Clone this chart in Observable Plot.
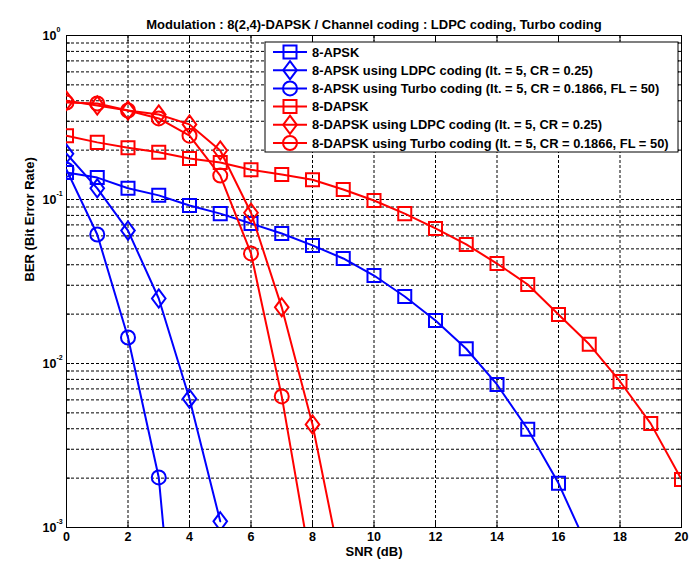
<!DOCTYPE html>
<html>
<head>
<meta charset="utf-8">
<script src="https://cdn.jsdelivr.net/npm/d3@7"></script>
<script src="https://cdn.jsdelivr.net/npm/@observablehq/plot@0.6"></script>
<style>
  html, body { margin: 0; padding: 0; background: #fff; }
</style>
</head>
<body>
<div id="chart"></div>
<script>
// ---- data ----
const titleText = "Modulation : 8(2,4)-DAPSK / Channel coding : LDPC coding, Turbo coding";
const xLabel = "SNR (dB)";
const yLabel = "BER (Bit Error Rate)";
const xTicks = [0, 2, 4, 6, 8, 10, 12, 14, 16, 18, 20];
const yDecades = [1e-3, 1e-2, 1e-1, 1];
const yExponents = ["-3", "-2", "-1", "0"];

const seriesNames = [
  "8-APSK",
  "8-APSK using LDPC coding (It. = 5, CR = 0.25)",
  "8-APSK using Turbo coding (It. = 5, CR = 0.1866, FL = 50)",
  "8-DAPSK",
  "8-DAPSK using LDPC coding (It. = 5, CR = 0.25)",
  "8-DAPSK using Turbo coding (It. = 5, CR = 0.1866, FL = 50)"
];
const apsk       = [0.146, 0.136, 0.117, 0.106, 0.092, 0.082, 0.0714, 0.062, 0.0525, 0.0437, 0.0344, 0.0256, 0.0183, 0.0123, 0.00745, 0.00397, 0.00186, 0.00072];
const apskLdpc   = [0.19, 0.117, 0.0646, 0.0249, 0.0061, 0.00109];
const apskTurbo  = [0.152, 0.0612, 0.0144, 0.00202, 0.00002];
const dapsk      = [0.245, 0.223, 0.207, 0.194, 0.178, 0.168, 0.152, 0.142, 0.132, 0.115, 0.0986, 0.082, 0.0666, 0.0532, 0.0407, 0.0303, 0.0199, 0.0131, 0.00777, 0.0043, 0.00196];
const dapskLdpc  = [0.40, 0.374, 0.349, 0.33, 0.287, 0.199, 0.083, 0.022, 0.00425, 0.0005];
const dapskTurbo = [0.39, 0.385, 0.349, 0.312, 0.245, 0.14, 0.0469, 0.0063, 0.00052];
const seriesValues = [apsk, apskLdpc, apskTurbo, dapsk, dapskLdpc, dapskTurbo];

// ---- styles ----
const BLUE = "#0000ff", RED = "#ff0000";
const seriesColors = [BLUE, BLUE, BLUE, RED, RED, RED];
const symSquare = { draw(ctx, size) { const r = Math.sqrt(size / Math.PI) * 0.93; ctx.moveTo(-r, -r); ctx.lineTo(r, -r); ctx.lineTo(r, r); ctx.lineTo(-r, r); ctx.closePath(); } };
const symDiamond = { draw(ctx, size) { const r = Math.sqrt(size / Math.PI); const w = r * 0.97, h = r * 1.3; ctx.moveTo(0, -h); ctx.lineTo(w, 0); ctx.lineTo(0, h); ctx.lineTo(-w, 0); ctx.closePath(); } };
const symCircle = { draw(ctx, size) { const r = Math.sqrt(size / Math.PI); ctx.moveTo(r, 0); ctx.arc(0, 0, r, 0, 2 * Math.PI); } };
const seriesSymbols = [symSquare, symDiamond, symCircle, symSquare, symDiamond, symCircle];
const R = 7;

const rows = seriesValues.map((vals, i) => vals.map((v, k) => ({ snr: k, ber: v, series: seriesNames[i] })));

const yGrid = [];
for (let e = -3; e < 0; e++) for (let m = 1; m <= 9; m++) yGrid.push(m * Math.pow(10, e));
const yGridInner = yGrid.filter(v => v > 1e-3);
const xGridInner = xTicks.filter(v => v > 0 && v < 20);

const font = "Arial, 'Liberation Sans', sans-serif";

const marks = [
  Plot.gridY(yGridInner, { stroke: "#000", strokeOpacity: 1, strokeWidth: 1, strokeDasharray: "3,2" }),
  Plot.gridX(xGridInner, { stroke: "#000", strokeOpacity: 1, strokeWidth: 1, strokeDasharray: "3,2" }),
  // inward ticks
  Plot.axisX(xTicks, { anchor: "bottom", tickSize: -5, tickFormat: () => "", label: null }),
  Plot.axisX(xTicks, { anchor: "top", tickSize: -5, tickFormat: () => "", label: null }),
  Plot.axisY(yGrid.concat([1]), { anchor: "left", tickSize: -4, tickFormat: () => "", label: null }),
  Plot.axisY(yGrid.concat([1]), { anchor: "right", tickSize: -4, tickFormat: () => "", label: null }),
  // x tick labels
  Plot.axisX(xTicks, { anchor: "bottom", tickSize: 0, tickPadding: 5, fontSize: 12.5, fontWeight: "bold", label: null }),
  // y tick labels 10^e
  Plot.text(yDecades, { y: d => d, text: () => "10", frameAnchor: "left", textAnchor: "end", dx: -10, fontSize: 12.5, fontWeight: "bold" }),
  Plot.text(yDecades, { y: d => d, text: (d, i) => yExponents[i], frameAnchor: "left", textAnchor: "start", dx: -10, dy: -6, fontSize: 7, fontWeight: "bold" }),
  Plot.frame({ stroke: "#000", strokeWidth: 1 }),
  // labels
  Plot.text([titleText], { text: d => d, frameAnchor: "top", dy: -16, fontSize: 13, fontWeight: "bold" }),
  Plot.text([xLabel], { text: d => d, frameAnchor: "bottom", dy: 28, fontSize: 13, fontWeight: "bold" }),
  Plot.text([yLabel], { text: d => d, frameAnchor: "left", dx: -37, rotate: -90, fontSize: 13, fontWeight: "bold" })
];

rows.forEach((data, i) => {
  marks.push(Plot.line(data, { x: "snr", y: "ber", stroke: seriesColors[i], strokeWidth: 2, clip: true }));
  marks.push(Plot.dot(data, { x: "snr", y: "ber", symbol: seriesSymbols[i], r: R, stroke: seriesColors[i], fill: "none", strokeWidth: 2, clip: true }));
});

const svg = Plot.plot({
  width: 699,
  height: 577,
  marginTop: 35,
  marginBottom: 50,
  marginLeft: 66,
  marginRight: 18,
  style: { fontFamily: font, background: "#fff", color: "#000", overflow: "visible" },
  x: { domain: [0, 20] },
  y: { type: "log", domain: [1e-3, 1] },
  marks
});

// ---- legend ----
const lg = d3.select(svg).append("g").attr("class", "legend");
const lx = 265, ly = 42, lw = 413, lh = 110, rowH = 18.2, row0 = 52;
lg.append("rect").attr("x", lx).attr("y", ly).attr("width", lw).attr("height", lh)
  .attr("fill", "#fff").attr("stroke", "#000").attr("stroke-width", 1);
seriesNames.forEach((name, i) => {
  const cy = row0 + i * rowH;
  const g = lg.append("g");
  g.append("line").attr("x1", lx + 8).attr("x2", lx + 42).attr("y1", cy).attr("y2", cy)
    .attr("stroke", seriesColors[i]).attr("stroke-width", 2);
  g.append("path").attr("d", d3.symbol(seriesSymbols[i], Math.PI * R * R)())
    .attr("transform", `translate(${lx + 25},${cy})`)
    .attr("fill", "none").attr("stroke", seriesColors[i]).attr("stroke-width", 2);
  g.append("text").attr("x", lx + 47).attr("y", cy).attr("dy", "0.36em")
    .attr("text-anchor", "start")
    .attr("font-family", font).attr("font-size", 12.9).attr("font-weight", "bold")
    .attr("fill", "#000").text(name);
});

document.getElementById("chart").appendChild(svg);
</script>
</body>
</html>
